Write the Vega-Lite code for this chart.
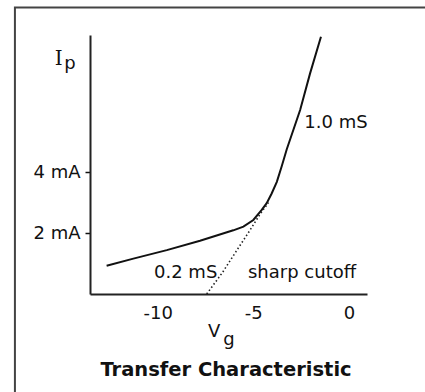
{
  "$schema": "https://vega.github.io/schema/vega-lite/v6.json",
  "autosize": {"type": "none"},
  "padding": {"left": 90, "top": 35, "right": 58, "bottom": 98},
  "width": 277,
  "height": 259,
  "background": "white",
  "config": {"view": {"stroke": null}, "font": "DejaVu Sans"},
  "datasets": {
    "frame": [{"vg": -17.48, "vg2": 4.77, "ip": 9.40, "ip2": -3.81}],
    "curve": [
      {"vg": -12.68, "ip": 0.93},
      {"vg": -11.28, "ip": 1.16},
      {"vg": -9.53, "ip": 1.44},
      {"vg": -7.79, "ip": 1.75},
      {"vg": -6.05, "ip": 2.09},
      {"vg": -5.52, "ip": 2.21},
      {"vg": -5.0, "ip": 2.43},
      {"vg": -4.56, "ip": 2.76},
      {"vg": -4.30, "ip": 2.98},
      {"vg": -4.04, "ip": 3.30},
      {"vg": -3.77, "ip": 3.68},
      {"vg": -3.51, "ip": 4.20},
      {"vg": -3.25, "ip": 4.75},
      {"vg": -2.55, "ip": 6.04},
      {"vg": -2.03, "ip": 7.24},
      {"vg": -1.46, "ip": 8.44}
    ],
    "cutoff": [
      {"vg": -7.44, "ip": 0.0},
      {"vg": -6.6, "ip": 0.72},
      {"vg": -5.9, "ip": 1.40},
      {"vg": -5.2, "ip": 2.07},
      {"vg": -4.65, "ip": 2.62},
      {"vg": -4.21, "ip": 3.0}
    ],
    "notes": [
      {"t": "1.0 mS", "vg": -2.33, "ip": 5.44},
      {"t": "0.2 mS", "vg": -10.20, "ip": 0.52},
      {"t": "sharp cutoff", "vg": -5.28, "ip": 0.52},
      {"t": "V", "vg": -7.37, "ip": -1.40},
      {"t": "g", "vg": -6.57, "ip": -1.67},
      {"t": "p", "vg": -14.9, "ip": 7.38}
    ],
    "symbol": [{"t": "I", "vg": -15.4, "ip": 7.52}],
    "heading": [{"t": "Transfer Characteristic", "vg": -6.43, "ip": -2.675}]
  },
  "encoding": {
    "x": {
      "field": "vg", "type": "quantitative",
      "scale": {"domain": [-13.55, 0.95], "nice": false, "zero": false},
      "axis": {
        "title": null, "grid": false, "values": [-10, -5, 0],
        "ticks": false, "tickSize": 0, "labelPadding": 10,
        "labelExpr": "'' + datum.value",
        "labelFont": "DejaVu Sans", "labelFontSize": 18, "labelColor": "#111",
        "domainColor": "#222", "domainWidth": 2
      }
    },
    "y": {
      "field": "ip", "type": "quantitative",
      "scale": {"domain": [0, 8.5], "nice": false, "zero": false},
      "axis": {
        "title": null, "grid": false, "values": [2, 4],
        "tickSize": 5, "tickColor": "#111", "tickWidth": 1.5, "labelPadding": 5,
        "labelExpr": "datum.value + ' mA'",
        "labelFont": "DejaVu Sans", "labelFontSize": 18, "labelColor": "#111",
        "domainColor": "#222", "domainWidth": 2
      }
    }
  },
  "layer": [
    {
      "data": {"name": "curve"},
      "mark": {"type": "line", "color": "#111", "strokeWidth": 2}
    },
    {
      "data": {"name": "frame"},
      "mark": {"type": "rect", "fill": "transparent", "stroke": "#444", "strokeWidth": 2},
      "encoding": {
        "x2": {"field": "vg2"},
        "y2": {"field": "ip2"}
      }
    },
    {
      "data": {"name": "cutoff"},
      "mark": {"type": "line", "color": "#222", "strokeWidth": 1.6, "strokeDash": [1.5, 2.4]}
    },
    {
      "data": {"name": "notes"},
      "mark": {"type": "text", "align": "left", "baseline": "alphabetic", "font": "DejaVu Sans", "fontSize": 18, "color": "#111"},
      "encoding": {"text": {"field": "t"}}
    },
    {
      "data": {"name": "symbol"},
      "mark": {"type": "text", "align": "left", "baseline": "alphabetic", "font": "DejaVu Serif", "fontSize": 20, "color": "#111"},
      "encoding": {"text": {"field": "t"}}
    },
    {
      "data": {"name": "heading"},
      "mark": {"type": "text", "align": "center", "baseline": "alphabetic", "font": "DejaVu Sans", "fontWeight": "bold", "fontSize": 19.5, "color": "#111"},
      "encoding": {"text": {"field": "t"}}
    }
  ]
}
